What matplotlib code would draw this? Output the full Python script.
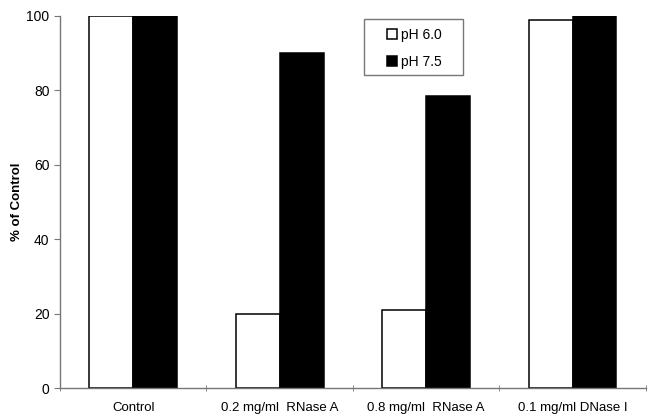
"""
Bar chart: % of control activity at pH 6.0 and pH 7.5 after nuclease treatment.
"""
import matplotlib.pyplot as plt
from matplotlib.patches import Rectangle
import numpy as np

plt.rcParams['font.family'] = ['Liberation Sans', 'DejaVu Sans']

categories = ['Control', '0.2 mg/ml  RNase A', '0.8 mg/ml  RNase A', '0.1 mg/ml DNase I']
ph60 = [100, 20, 21, 99]
ph75 = [100, 90, 78.5, 100]
series_labels = ['pH 6.0', 'pH 7.5']


def plot_bars():
    fig = plt.figure(figsize=(6.51, 4.2), dpi=100)
    ax = fig.add_axes([0.092, 0.076, 0.9, 0.886])

    x = np.arange(len(categories))
    width = 0.3
    ax.bar(x - width / 2, ph60, width, color='white', edgecolor='black', linewidth=1.1,
           label=series_labels[0])
    ax.bar(x + width / 2, ph75, width, color='black', edgecolor='black', linewidth=1.1,
           label=series_labels[1])

    ax.set_xlim(-0.5, len(categories) - 0.5)
    ax.set_ylim(0, 100)
    ax.set_yticks(np.arange(0, 101, 20))
    ax.set_xticks(x)
    ax.set_xticklabels(categories, fontsize=9.5)
    ax.tick_params(axis='x', length=0, pad=10)
    # category boundary ticks
    ax.set_xticks(np.arange(-0.5, len(categories)), minor=True)
    ax.tick_params(axis='x', which='minor', length=4, direction='inout', color='#777777')
    ax.tick_params(axis='y', length=4, color='#777777', labelsize=10)

    for side in ['top', 'right']:
        ax.spines[side].set_visible(False)
    for side in ['left', 'bottom']:
        ax.spines[side].set_color('#777777')
        ax.spines[side].set_linewidth(1.0)

    ax.set_ylabel('% of Control', fontsize=9.5, fontweight='bold')
    ax.yaxis.set_label_coords(-0.063, 0.5)

    # legend box drawn separately so it can be wider than the entries
    ax.add_patch(Rectangle((0.519, 0.841), 0.169, 0.151, transform=ax.transAxes,
                           facecolor='white', edgecolor='#777777', linewidth=1.0,
                           zorder=4, clip_on=False))
    leg = ax.legend(loc='center', bbox_to_anchor=(0.605, 0.913), fontsize=10,
                    frameon=False, borderpad=0,
                    handlelength=0.7, handleheight=0.7, handletextpad=0.3,
                    labelspacing=0.9)
    leg.set_zorder(5)

    fig.savefig('out.png', dpi=100)
    return fig


if __name__ == '__main__':
    plot_bars()
